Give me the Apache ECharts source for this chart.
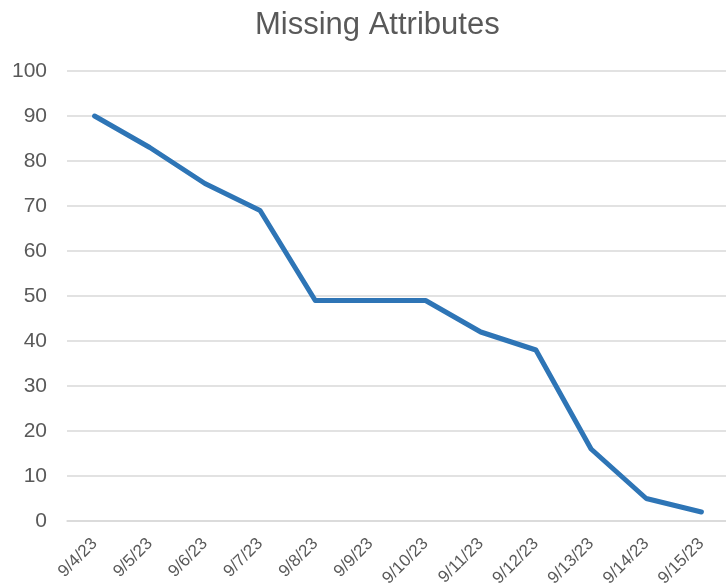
<!DOCTYPE html>
<html>
<head>
<meta charset="utf-8">
<script src="https://cdn.jsdelivr.net/npm/echarts@6/dist/echarts.min.js"></script>
<style>
  html, body { margin: 0; padding: 0; background: #fff; }
  #chart { width: 726px; height: 587px; }
</style>
</head>
<body>
<div id="chart"></div>
<script>
const dates = ['9/4/23', '9/5/23', '9/6/23', '9/7/23', '9/8/23', '9/9/23',
  '9/10/23', '9/11/23', '9/12/23', '9/13/23', '9/14/23', '9/15/23'];
const missing = [90, 83, 75, 69, 49, 49, 49, 42, 38, 16, 5, 2];
const yTicks = [0, 10, 20, 30, 40, 50, 60, 70, 80, 90, 100];

const chart = echarts.init(document.getElementById('chart'));

const option = {
  animation: false,
  title: {
    text: 'Missing Attributes',
    left: 250,
    top: 5,
    textStyle: {
      fontFamily: 'Liberation Sans',
      fontSize: 31,
      fontWeight: 'normal',
      color: '#595959'
    }
  },
  grid: {
    left: 67,
    right: -3,
    top: 71,
    bottom: 66,
    outerBoundsMode: 'none'
  },
  xAxis: {
    type: 'category',
    data: dates,
    boundaryGap: true,
    axisLine: { show: true, lineStyle: { color: '#d9d9d9', width: 1.5 } },
    axisTick: { show: false },
    axisLabel: {
      rotate: 45,
      interval: 0,
      margin: 20,
      fontFamily: 'Liberation Sans',
      fontSize: 17,
      color: '#595959'
    }
  },
  yAxis: {
    type: 'value',
    min: yTicks[0],
    max: yTicks[yTicks.length - 1],
    interval: 10,
    axisLine: { show: false },
    axisTick: { show: false },
    splitLine: { lineStyle: { color: '#d9d9d9', width: 1.5 } },
    axisLabel: {
      margin: 20,
      fontFamily: 'Liberation Sans',
      fontSize: 21,
      color: '#595959'
    }
  },
  series: [
    {
      type: 'line',
      data: missing,
      symbol: 'none',
      lineStyle: { color: '#2E75B6', width: 5, cap: 'round', join: 'round' }
    }
  ]
};
chart.setOption(option);
</script>
</body>
</html>
